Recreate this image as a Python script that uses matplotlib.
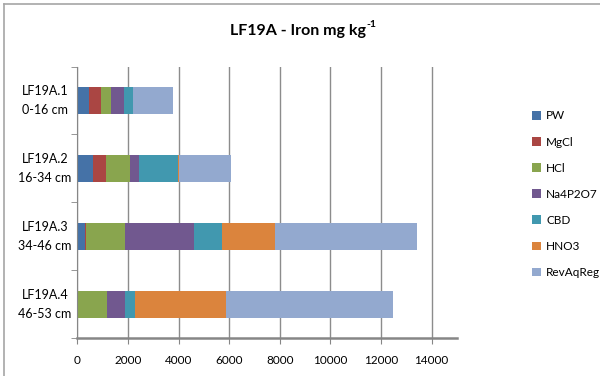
import matplotlib.pyplot as plt
from matplotlib.lines import Line2D
from matplotlib.patches import Patch
from matplotlib.transforms import blended_transform_factory

plt.rcParams['font.family'] = ['Lato', 'DejaVu Sans']

samples = ['LF19A.1\n0-16 cm', 'LF19A.2\n16-34 cm', 'LF19A.3\n34-46 cm', 'LF19A.4\n46-53 cm']
fractions = ['PW', 'MgCl', 'HCl', 'Na4P2O7', 'CBD', 'HNO3', 'RevAqReg']

# Fe (mg/kg) extracted in each step, per sample
pw = [465, 625, 315, 40]
mgcl = [460, 500, 30, 0]
hcl = [395, 945, 1550, 1130]
na4p2o7 = [525, 355, 2710, 700]
cbd = [355, 1565, 1117, 395]
hno3 = [0, 40, 2090, 3590]
revaqreg = [1580, 2050, 5600, 6600]

colors = ['#4572A7', '#AA4643', '#89A54E', '#71588F', '#4198AF', '#DB843D', '#93A9CF']

fig = plt.figure(figsize=(6, 3.76), dpi=100)
ax = fig.add_axes([0.129, 0.101, 0.6325, 0.722])

ypos = list(range(len(samples)))
left = [0] * len(samples)
for vals, name, c in zip([pw, mgcl, hcl, na4p2o7, cbd, hno3, revaqreg], fractions, colors):
    ax.barh(ypos, vals, left=left, height=0.4, color=c, label=name, linewidth=0)
    left = [a + b for a, b in zip(left, vals)]

ax.set_xlim(0, 15000)
ax.set_ylim(len(samples) - 0.5, -0.5)
ax.set_xticks(range(0, 15000, 2000))
ax.set_yticks(ypos)
ax.set_yticklabels([])
ax.tick_params(axis='y', length=0)
ax.tick_params(axis='x', labelsize=8.5, length=4, color='#868686', pad=8)

# category labels centred to the left of the axis
trans = blended_transform_factory(ax.transAxes, ax.transData)
for y, lab in zip(ypos, samples):
    ax.text(-0.085, y, lab, transform=trans, ha='center', va='center',
            fontsize=9, linespacing=1.7)

# small outward ticks between categories
ax.set_yticks([-0.5, 0.5, 1.5, 2.5, 3.5], minor=True)
ax.tick_params(axis='y', which='minor', length=4, color='#868686')

ax.grid(axis='x', color='#8c8c8c', linewidth=1)
ax.set_axisbelow(True)
for s in ['top', 'right']:
    ax.spines[s].set_visible(False)
ax.spines['left'].set_color('#868686')
ax.spines['bottom'].set_color('#868686')
ax.spines['bottom'].set_linewidth(1.8)

title = fig.text(0.497, 0.918, 'LF19A - Iron mg kg', ha='center', va='center',
                 fontsize=11.5, fontweight='bold')
ax.annotate('-1', xy=(1.0, 0.95), xycoords=title, xytext=(0.3, 0),
            textcoords='offset points', ha='left', va='center',
            fontsize=7.5, fontweight='bold')

handles = [Patch(facecolor=c, label=n) for c, n in zip(colors, fractions)]
fig.legend(handles=handles, loc='upper left', bbox_to_anchor=(0.877, 0.722),
           frameon=False, fontsize=8.5, handlelength=0.75, handleheight=0.75,
           handletextpad=0.45, labelspacing=1.28, borderpad=0)

# chart frame
fig.add_artist(Line2D([0.0067, 1.0], [0.989, 0.989], color='#a6a6a6', lw=1.2))
fig.add_artist(Line2D([0.0067, 0.0067], [0.0, 0.989], color='#a6a6a6', lw=1.2))

fig.savefig('out.png', dpi=100)
